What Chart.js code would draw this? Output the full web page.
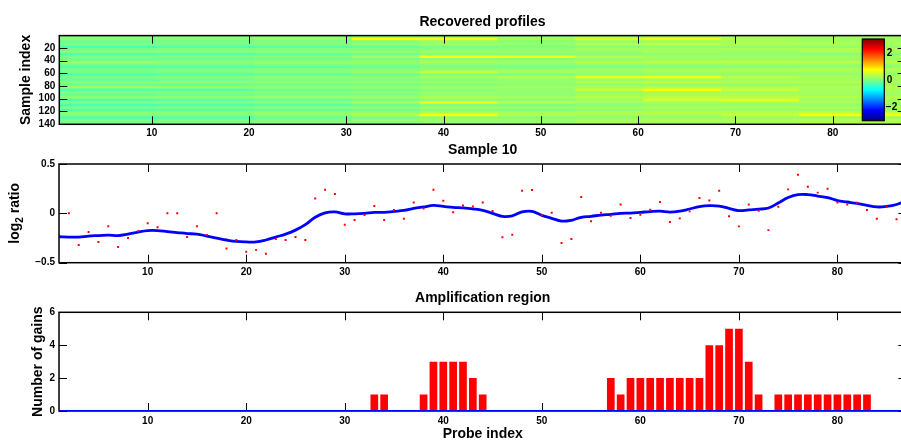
<!DOCTYPE html>
<html>
<head>
<meta charset="utf-8">
<script src="https://cdn.jsdelivr.net/npm/chart.js@4.4.0/dist/chart.umd.min.js"></script>
<style>
html, body { margin: 0; padding: 0; background: #fff; overflow: hidden; width: 901px; height: 441px; }
body { position: relative; }
.panel { position: absolute; left: 0; }
</style>
</head>
<body>
<div class="panel" style="top:0"><canvas id="heatChart" width="920" height="140"></canvas></div>
<div class="panel" style="top:140px"><canvas id="sampleChart" width="920" height="145"></canvas></div>
<div class="panel" style="top:285px"><canvas id="gainChart" width="920" height="156"></canvas></div>
<script>
// probe positions along the genome
const probes = Array.from({ length: 87 }, (_, i) => i + 1);
const probeTicks = [10, 20, 30, 40, 50, 60, 70, 80];

// Sample 10 - raw log2 ratios (dots) and recovered profile (line)
const sampleRatio = [
  -0.24, 0.00, -0.32, -0.19, -0.29, -0.13, -0.34, -0.25, -0.18, -0.10,
  -0.14, 0.00, 0.00, -0.24, -0.13, -0.22, 0.00, -0.355, -0.27, -0.39,
  -0.37, -0.41, -0.26, -0.27, -0.24, -0.27, 0.15, 0.24, 0.196, -0.115,
  -0.068, -0.017, 0.074, -0.068, 0.033, -0.054, 0.11, 0.05, 0.24, 0.128,
  0.01, 0.08, 0.07, 0.11, 0.023, -0.243, -0.217, 0.229, 0.236, -0.02,
  0.006, -0.30, -0.26, 0.165, -0.081, 0.006, -0.024, 0.09, -0.048, -0.014,
  0.037, 0.115, -0.088, -0.051, 0.02, 0.155, 0.13, 0.229, -0.03, -0.132,
  0.09, 0.027, -0.17, 0.067, 0.243, 0.39, 0.27, 0.21, 0.25, 0.11,
  0.09, 0.108, 0.033, -0.055, 0.067, -0.06, 0.10
];
const sampleProfile = [
  -0.237, -0.24, -0.24, -0.23, -0.225, -0.22, -0.225, -0.21, -0.19, -0.175,
  -0.175, -0.185, -0.195, -0.205, -0.21, -0.23, -0.25, -0.27, -0.285, -0.29,
  -0.29, -0.27, -0.24, -0.21, -0.17, -0.115, -0.04, 0.005, 0.015, -0.005,
  -0.005, 0.0, 0.01, 0.01, 0.02, 0.03, 0.05, 0.065, 0.08, 0.07,
  0.06, 0.055, 0.045, 0.03, 0.0, -0.03, -0.025, 0.015, 0.02, -0.02,
  -0.05, -0.078, -0.07, -0.04, -0.03, -0.018, -0.01, 0.0, 0.003, 0.01,
  0.018, 0.022, 0.013, 0.022, 0.044, 0.068, 0.078, 0.074, 0.05, 0.027,
  0.036, 0.042, 0.054, 0.105, 0.16, 0.19, 0.19, 0.175, 0.16, 0.13,
  0.115, 0.1, 0.08, 0.065, 0.07, 0.09, 0.13
];
const ratioTicks = [-0.5, 0, 0.5];
const ratioTickLabels = ['\u22120.5', '0', '0.5'];

// Amplification region - number of gains per probe
const gainCounts = [
  0, 0, 0, 0, 0, 0, 0, 0, 0, 0,
  0, 0, 0, 0, 0, 0, 0, 0, 0, 0,
  0, 0, 0, 0, 0, 0, 0, 0, 0, 0,
  0, 0, 1, 1, 0, 0, 0, 1, 3, 3,
  3, 3, 2, 1, 0, 0, 0, 0, 0, 0,
  0, 0, 0, 0, 0, 0, 2, 1, 2, 2,
  2, 2, 2, 2, 2, 2, 4, 4, 5, 5,
  3, 1, 0, 1, 1, 1, 1, 1, 1, 1,
  1, 1, 1, 0, 0, 0, 0
];
const gainTicks = [0, 2, 4, 6];

// Recovered profiles - 140 samples in bands of 4, probes in 10 segments
const sampleTicks = [20, 40, 60, 80, 100, 120, 140];
const bandSize = 4;
const segmentEdges = [0.5, 10.5, 20.5, 30.5, 37.5, 45.5, 53.5, 60.5, 68.5, 76.5, 87.5];
const heatBands = [
  [-0.02, -0.02, 0.03, 0.05, 0.1, 0.1, 0.15, 0.2, 0.2, 0.15],
  [0.08, 0.08, 0.13, 0.75, 0.65, 0.2, 0.5, 0.65, 0.3, 0.2],
  [-0.12, -0.07, -0.02, 0.0, 0.1, 0.05, 0.1, 0.15, 0.2, 0.2],
  [-0.02, -0.02, 0.03, 0.1, 0.2, 0.15, 0.3, 0.35, 0.3, 0.25],
  [-0.32, -0.27, -0.22, -0.15, -0.05, 0.0, 0.05, 0.1, 0.1, 0.1],
  [-0.07, -0.02, -0.02, 0.0, 0.05, 0.1, 0.2, 0.2, 0.25, 0.3],
  [0.03, 0.03, 0.08, 0.1, 0.15, 0.1, 0.15, 0.2, 0.15, 0.2],
  [-0.27, -0.22, -0.17, -0.1, 0.0, 0.0, 0.05, 0.1, 0.1, 0.05],
  [-0.02, -0.02, 0.03, 0.2, 0.75, 0.7, 0.3, 0.2, 0.2, 0.2],
  [-0.12, -0.12, -0.07, -0.05, 0.05, 0.05, 0.1, 0.15, 0.15, 0.15],
  [0.13, 0.08, 0.13, 0.15, 0.25, 0.2, 0.3, 0.35, 0.35, 0.35],
  [-0.07, -0.07, -0.02, 0.0, 0.05, 0.05, 0.1, 0.1, 0.15, 0.15],
  [-0.27, -0.22, -0.17, -0.1, 0.0, -0.05, 0.0, 0.05, 0.05, 0.1],
  [-0.02, -0.02, 0.03, 0.05, 0.1, 0.15, 0.2, 0.25, 0.3, 0.3],
  [-0.07, -0.02, 0.03, 0.15, 0.45, 0.2, 0.15, 0.2, 0.2, 0.2],
  [-0.27, -0.22, -0.17, -0.1, 0.0, 0.0, 0.1, 0.1, 0.1, 0.1],
  [-0.02, 0.03, 0.08, 0.1, 0.2, 0.3, 0.65, 0.7, 0.35, 0.25],
  [-0.12, -0.07, -0.02, 0.0, 0.05, 0.1, 0.15, 0.2, 0.2, 0.2],
  [0.08, 0.08, 0.08, 0.1, 0.15, 0.15, 0.3, 0.35, 0.3, 0.3],
  [-0.12, -0.12, -0.07, -0.05, 0.0, 0.05, 0.1, 0.1, 0.1, 0.15],
  [0.13, 0.13, 0.13, 0.15, 0.2, 0.2, 0.25, 0.3, 0.3, 0.35],
  [-0.27, -0.22, -0.12, -0.05, 0.05, 0.1, 0.45, 0.75, 0.45, 0.2],
  [-0.02, -0.02, 0.03, 0.05, 0.1, 0.1, 0.15, 0.2, 0.2, 0.2],
  [-0.12, -0.07, -0.02, 0.0, 0.1, 0.1, 0.2, 0.25, 0.25, 0.2],
  [0.08, 0.08, 0.13, 0.15, 0.25, 0.2, 0.3, 0.35, 0.35, 0.3],
  [-0.27, -0.22, -0.17, -0.05, 0.05, 0.05, 0.2, 0.5, 0.6, 0.2],
  [-0.02, -0.02, 0.08, 0.2, 0.6, 0.3, 0.2, 0.25, 0.25, 0.25],
  [-0.32, -0.27, -0.22, -0.1, 0.0, 0.0, 0.05, 0.1, 0.1, 0.1],
  [-0.02, 0.03, 0.08, 0.1, 0.2, 0.15, 0.25, 0.3, 0.3, 0.3],
  [-0.27, -0.22, -0.17, -0.1, 0.0, 0.0, 0.05, 0.1, 0.1, 0.1],
  [0.08, 0.08, 0.13, 0.15, 0.3, 0.25, 0.3, 0.35, 0.35, 0.4],
  [-0.02, -0.02, 0.08, 0.3, 0.7, 0.3, 0.2, 0.2, 0.4, 0.7],
  [-0.27, -0.22, -0.12, -0.05, 0.05, 0.05, 0.1, 0.15, 0.15, 0.15],
  [-0.02, -0.02, 0.03, 0.1, 0.15, 0.15, 0.25, 0.3, 0.3, 0.3],
  [-0.07, -0.02, 0.03, 0.05, 0.1, 0.1, 0.2, 0.2, 0.2, 0.25]
];
const colorLimits = [-3, 3];
const colorbarTicks = [2, 0, -2];
const colorbarTickLabels = ['2', '0', '\u22122'];

const FONT = '"Liberation Sans", Arial, Helvetica, sans-serif';
Chart.defaults.font.family = FONT;
Chart.defaults.font.weight = 'bold';
Chart.defaults.font.size = 10;
Chart.defaults.color = '#000';
Chart.defaults.animation = false;

// matlab "jet" colormap
function jet(t) {
  t = Math.max(0, Math.min(1, t));
  const c = x => Math.round(255 * Math.max(0, Math.min(1, 1.5 - Math.abs(x))));
  return `rgb(${c(4 * t - 3)},${c(4 * t - 2)},${c(4 * t - 1)})`;
}
function heatColor(v) {
  return jet((v - colorLimits[0]) / (colorLimits[1] - colorLimits[0]));
}

// box, inward ticks and labels like a matlab axes
function drawFrame(chart, o) {
  const { ctx, chartArea: a } = chart;
  const xs = chart.scales.x, ys = chart.scales.y;
  ctx.save();
  ctx.strokeStyle = '#000';
  ctx.lineWidth = 1;
  ctx.beginPath();
  o.xTicks.forEach(v => {
    const px = Math.round(xs.getPixelForValue(v)) + 0.5;
    ctx.moveTo(px, a.top); ctx.lineTo(px, a.top + 8);
    ctx.moveTo(px, a.bottom); ctx.lineTo(px, a.bottom - 8);
  });
  o.yTicks.forEach(v => {
    const py = Math.round(ys.getPixelForValue(v)) + 0.5;
    ctx.moveTo(a.left, py); ctx.lineTo(a.left + 8, py);
    ctx.moveTo(a.right, py); ctx.lineTo(a.right - 8, py);
  });
  ctx.stroke();
  ctx.lineWidth = 1.5;
  ctx.strokeRect(a.left, a.top, a.right - a.left, a.bottom - a.top);
  ctx.restore();
}

function drawLabels(chart, o) {
  const { ctx, chartArea: a } = chart;
  const cx = (a.left + a.right) / 2;
  ctx.save();
  ctx.fillStyle = '#000';
  ctx.textBaseline = 'alphabetic';
  ctx.textAlign = 'center';
  ctx.font = 'bold 14px ' + FONT;
  ctx.fillText(o.title, cx, o.titleY);
  if (o.xLabel) ctx.fillText(o.xLabel, cx, o.xLabelY);
  ctx.translate(o.yLabelX, (a.top + a.bottom) / 2);
  ctx.rotate(-Math.PI / 2);
  ctx.textAlign = 'left';
  let total = 0;
  o.yLabel.forEach(p => { ctx.font = `bold ${p[1]}px ${FONT}`; total += ctx.measureText(p[0]).width; });
  let x = -total / 2;
  o.yLabel.forEach(p => {
    ctx.font = `bold ${p[1]}px ${FONT}`;
    ctx.fillText(p[0], x, p[2]);
    x += ctx.measureText(p[0]).width;
  });
  ctx.restore();
}

const matlabAxes = {
  id: 'matlabAxes',
  beforeDatasetsDraw(chart, args, o) { if (o.frameUnder) drawFrame(chart, o); },
  afterDatasetsDraw(chart, args, o) { if (!o.frameUnder) drawFrame(chart, o); },
  afterDraw(chart, args, o) { drawLabels(chart, o); }
};

const colorbar = {
  id: 'colorbar',
  afterDatasetsDraw(chart, args, o) {
    const { ctx } = chart;
    const g = ctx.createLinearGradient(0, o.bottom, 0, o.top);
    for (let i = 0; i <= 16; i++) g.addColorStop(i / 16, jet(i / 16));
    ctx.save();
    ctx.fillStyle = g;
    ctx.fillRect(o.left, o.top, o.right - o.left, o.bottom - o.top);
    ctx.strokeStyle = '#000';
    ctx.lineWidth = 1.2;
    ctx.strokeRect(o.left, o.top, o.right - o.left, o.bottom - o.top);
    ctx.fillStyle = '#000';
    ctx.font = 'bold 10px ' + FONT;
    ctx.textBaseline = 'middle';
    ctx.textAlign = 'left';
    colorbarTicks.forEach((v, i) => {
      const y = o.bottom - (v - colorLimits[0]) / (colorLimits[1] - colorLimits[0]) * (o.bottom - o.top);
      ctx.fillText(colorbarTickLabels[i], o.right + (v < 0 ? 1.5 : 2.5), y + 0.5);
    });
    ctx.restore();
  }
};

const fixedTicks = list => scale => { scale.ticks = list.map(v => ({ value: v })); };
const noGrid = { display: false, drawTicks: false };

// Recovered profiles
const bandCenters = heatBands.map((_, i) => i * bandSize + (bandSize + 1) / 2);
const heatDatasets = segmentEdges.slice(0, -1).map((x0, j) => ({
  data: bandCenters.map(c => ({ y: c, x: [x0, segmentEdges[j + 1]] })),
  backgroundColor: heatBands.map(row => heatColor(row[j])),
  borderWidth: 0,
  barPercentage: 1,
  categoryPercentage: 1,
  grouped: false
}));

new Chart(document.getElementById('heatChart'), {
  type: 'bar',
  data: { datasets: heatDatasets },
  options: {
    indexAxis: 'y',
    responsive: false,
    events: [],
    layout: { padding: { left: 9.3, right: 14.3, top: 35.6, bottom: 0 } },
    plugins: {
      legend: { display: false },
      tooltip: { enabled: false },
      matlabAxes: {
        xTicks: probeTicks, yTicks: sampleTicks,
        title: 'Recovered profiles', titleY: 25.7,
        yLabel: [['Sample index', 14, 0]], yLabelX: 29.8
      },
      colorbar: { left: 862.3, right: 884.3, top: 39, bottom: 120.7 }
    },
    scales: {
      x: {
        type: 'linear', min: 0.5, max: 87.5, offset: false,
        grid: noGrid, border: { display: false },
        ticks: { padding: 3, autoSkip: false, maxRotation: 0 },
        afterBuildTicks: fixedTicks(probeTicks),
        afterFit: s => { s.height = 15.7; }
      },
      y: {
        type: 'linear', min: 0.5, max: 140.5, reverse: true, offset: false,
        grid: noGrid, border: { display: false },
        ticks: { padding: 4, autoSkip: false },
        afterBuildTicks: fixedTicks(sampleTicks),
        afterFit: s => { s.width = 50; }
      }
    }
  },
  plugins: [matlabAxes, colorbar]
});

// Sample 10
new Chart(document.getElementById('sampleChart'), {
  type: 'line',
  data: {
    datasets: [
      {
        data: probes.map((p, i) => ({ x: p, y: sampleRatio[i] })),
        showLine: false,
        pointStyle: 'rect',
        pointRadius: 1.4,
        pointBorderWidth: 0,
        pointBackgroundColor: '#ff0000'
      },
      {
        data: probes.map((p, i) => ({ x: p, y: sampleProfile[i] })),
        borderColor: '#0000ff',
        borderWidth: 2.8,
        pointRadius: 0,
        tension: 0.4
      }
    ]
  },
  options: {
    responsive: false,
    events: [],
    layout: { padding: { left: 9, right: 13.6, top: 24, bottom: 0 } },
    plugins: {
      legend: { display: false },
      tooltip: { enabled: false },
      matlabAxes: {
        xTicks: probeTicks, yTicks: ratioTicks,
        title: 'Sample 10', titleY: 13.7,
        yLabel: [['log', 14, 0], ['2', 10, 4], [' ratio', 14, 0]], yLabelX: 18.5
      }
    },
    scales: {
      x: {
        type: 'linear', min: 1, max: 87, offset: false,
        grid: noGrid, border: { display: false },
        ticks: { padding: 4, autoSkip: false, maxRotation: 0 },
        afterBuildTicks: fixedTicks(probeTicks),
        afterFit: s => { s.height = 22.3; }
      },
      y: {
        type: 'linear', min: -0.5, max: 0.5,
        grid: noGrid, border: { display: false },
        ticks: { padding: 4, autoSkip: false, callback: (v, i) => ratioTickLabels[i] },
        afterBuildTicks: fixedTicks(ratioTicks),
        afterFit: s => { s.width = 50; }
      }
    }
  },
  plugins: [matlabAxes]
});

// Amplification region
new Chart(document.getElementById('gainChart'), {
  type: 'bar',
  data: {
    datasets: [
      {
        type: 'line',
        data: probes.map(p => ({ x: p, y: 0 })),
        borderColor: '#0000ff',
        borderWidth: 2,
        pointRadius: 0
      },
      {
        type: 'bar',
        data: probes.map((p, i) => ({ x: p, y: gainCounts[i] })),
        backgroundColor: '#ff0000',
        borderWidth: 0,
        barPercentage: 0.78,
        categoryPercentage: 1
      }
    ]
  },
  options: {
    responsive: false,
    events: [],
    layout: { padding: { left: 9, right: 13.6, top: 27.3, bottom: 0 } },
    plugins: {
      legend: { display: false },
      tooltip: { enabled: false },
      matlabAxes: {
        frameUnder: true,
        xTicks: probeTicks, yTicks: gainTicks,
        title: 'Amplification region', titleY: 17.3,
        xLabel: 'Probe index', xLabelY: 152.5,
        yLabel: [['Number of gains', 14, 0]], yLabelX: 41.5
      }
    },
    scales: {
      x: {
        type: 'linear', min: 1, max: 87, offset: false,
        grid: noGrid, border: { display: false },
        ticks: { padding: 4, autoSkip: false, maxRotation: 0 },
        afterBuildTicks: fixedTicks(probeTicks),
        afterFit: s => { s.height = 30; }
      },
      y: {
        type: 'linear', min: 0, max: 6,
        grid: noGrid, border: { display: false },
        ticks: { padding: 4, autoSkip: false },
        afterBuildTicks: fixedTicks(gainTicks),
        afterFit: s => { s.width = 50; }
      }
    }
  },
  plugins: [matlabAxes]
});
</script>
</body>
</html>
